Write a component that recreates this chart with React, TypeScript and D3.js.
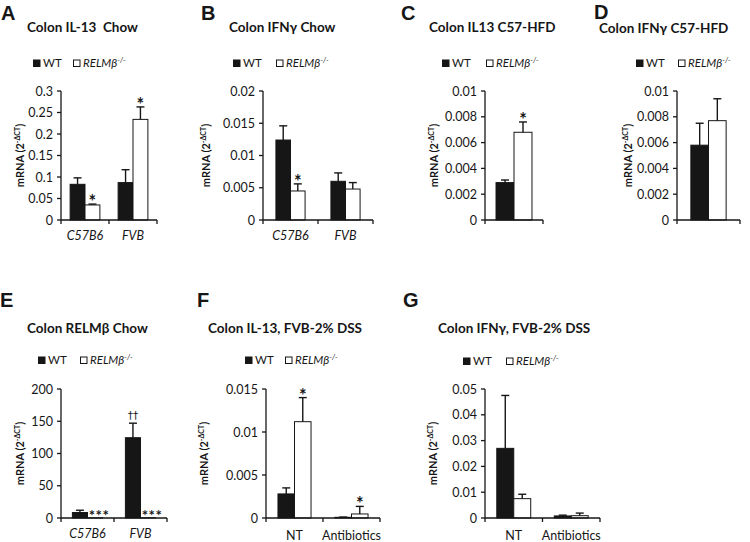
import React from "react";
import * as d3 from "d3";

// ---------- data ----------
const seriesNames = ["WT", "RELMβ"];

const catsA = ["C57B6", "FVB"];
const wtA = [0.083, 0.087];
const wtSemA = [0.015, 0.03];
const koA = [0.035, 0.234];
const koSemA = [0.002, 0.029];
const ticksA = [0, 0.05, 0.1, 0.15, 0.2, 0.25, 0.3];
const annWtA = ["", ""];
const annKoA = ["*", "*"];

const catsB = ["C57B6", "FVB"];
const wtB = [0.0124, 0.006];
const wtSemB = [0.0022, 0.0013];
const koB = [0.0045, 0.0048];
const koSemB = [0.0011, 0.001];
const ticksB = [0, 0.005, 0.01, 0.015, 0.02];
const annWtB = ["", ""];
const annKoB = ["*", ""];

const catsC = [""];
const wtC = [0.0029];
const wtSemC = [0.0002];
const koC = [0.0068];
const koSemC = [0.0008];
const ticksC = [0, 0.002, 0.004, 0.006, 0.008, 0.01];
const annWtC = [""];
const annKoC = ["*"];

const catsD = [""];
const wtD = [0.0058];
const wtSemD = [0.0017];
const koD = [0.0077];
const koSemD = [0.0017];
const ticksD = [0, 0.002, 0.004, 0.006, 0.008, 0.01];
const annWtD = [""];
const annKoD = [""];

const catsE = ["C57B6", "FVB"];
const wtE = [8.5, 124.5];
const wtSemE = [3.5, 22.5];
const koE = [0.3, 0.4];
const koSemE = [0, 0];
const ticksE = [0, 50, 100, 150, 200];
const annWtE = ["", "††"];
const annKoE = ["***", "***"];

const catsF = ["NT", "Antibiotics"];
const wtF = [0.0028, 0.00008];
const wtSemF = [0.0007, 0.00003];
const koF = [0.0112, 0.00047];
const koSemF = [0.0028, 0.00088];
const ticksF = [0, 0.005, 0.01, 0.015];
const annWtF = ["", ""];
const annKoF = ["*", "*"];

const catsG = ["NT", "Antibiotics"];
const wtG = [0.027, 0.0008];
const wtSemG = [0.0205, 0.0003];
const koG = [0.0075, 0.0009];
const koSemG = [0.0017, 0.001];
const ticksG = [0, 0.01, 0.02, 0.03, 0.04, 0.05];
const annWtG = ["", ""];
const annKoG = ["", ""];

// ---------- layout ----------
const FONT = "Lato, 'Open Sans', sans-serif";
const INK = "#161616";

type Panel = {
  letter: string;
  title: string;
  cats: string[];
  italicCats: boolean;
  wt: number[];
  wtSem: number[];
  ko: number[];
  koSem: number[];
  ticks: number[];
  annWt: string[];
  annKo: string[];
  axisX: [number, number];
  axisY: [number, number];
  letterPos: [number, number];
  titlePos: [number, number];
  legend: [number, number, number];
  ylabelX: number;
  catY: number;
  barFrac: number;
};

const panels: Panel[] = [
  { letter: "A", title: "Colon IL-13  Chow", cats: catsA, italicCats: true, wt: wtA, wtSem: wtSemA, ko: koA, koSem: koSemA, ticks: ticksA, annWt: annWtA, annKo: annKoA,
    axisX: [61, 157], axisY: [91, 220], letterPos: [1, 20], titlePos: [27, 32], legend: [33, 73, 63], ylabelX: 24, catY: 240, barFrac: 0.62 },
  { letter: "B", title: "Colon IFNγ Chow", cats: catsB, italicCats: true, wt: wtB, wtSem: wtSemB, ko: koB, koSem: koSemB, ticks: ticksB, annWt: annWtB, annKo: annKoB,
    axisX: [263, 373], axisY: [91, 220], letterPos: [201, 20], titlePos: [229, 32], legend: [233, 276, 63], ylabelX: 210, catY: 240, barFrac: 0.53 },
  { letter: "C", title: "Colon IL13 C57-HFD", cats: catsC, italicCats: true, wt: wtC, wtSem: wtSemC, ko: koC, koSem: koSemC, ticks: ticksC, annWt: annWtC, annKo: annKoC,
    axisX: [485, 543], axisY: [91, 220], letterPos: [401, 20], titlePos: [429, 32], legend: [442, 486, 63], ylabelX: 438, catY: 240, barFrac: 0.62 },
  { letter: "D", title: "Colon IFNγ C57-HFD", cats: catsD, italicCats: true, wt: wtD, wtSem: wtSemD, ko: koD, koSem: koSemD, ticks: ticksD, annWt: annWtD, annKo: annKoD,
    axisX: [677, 740], axisY: [91, 220], letterPos: [594, 19], titlePos: [599, 33], legend: [636, 678, 63], ylabelX: 632, catY: 240, barFrac: 0.56 },
  { letter: "E", title: "Colon RELMβ Chow", cats: catsE, italicCats: true, wt: wtE, wtSem: wtSemE, ko: koE, koSem: koSemE, ticks: ticksE, annWt: annWtE, annKo: annKoE,
    axisX: [61, 167], axisY: [389, 518], letterPos: [0, 307], titlePos: [27, 333], legend: [38, 80, 360], ylabelX: 24, catY: 538, barFrac: 0.57 },
  { letter: "F", title: "Colon IL-13, FVB-2% DSS", cats: catsF, italicCats: false, wt: wtF, wtSem: wtSemF, ko: koF, koSem: koSemF, ticks: ticksF, annWt: annWtF, annKo: annKoF,
    axisX: [266, 380], axisY: [389, 518], letterPos: [197, 307], titlePos: [208, 333], legend: [245, 285, 360], ylabelX: 208, catY: 540, barFrac: 0.58 },
  { letter: "G", title: "Colon IFNγ, FVB-2% DSS", cats: catsG, italicCats: false, wt: wtG, wtSem: wtSemG, ko: koG, koSem: koSemG, ticks: ticksG, annWt: annWtG, annKo: annKoG,
    axisX: [485, 600], axisY: [389, 518], letterPos: [403, 307], titlePos: [438, 333], legend: [463, 506, 361], ylabelX: 437, catY: 540, barFrac: 0.59 },
];

const fmt = d3.format("~g");

function Annotation({ x, y, text }: { x: number; y: number; text: string }) {
  if (!text) return null;
  const isDagger = text.includes("†");
  const isTriple = text.length > 1 && text.includes("*");
  if (isDagger) {
    return (
      <text x={x} y={y - 4} textAnchor="middle" fontSize={10.5} fontFamily="'DejaVu Sans', sans-serif" fill={INK}>{text}</text>
    );
  }
  if (isTriple) {
    return (
      <text x={x + 4} y={y + 3} textAnchor="middle" fontSize={15} fontWeight={700} fontFamily={FONT} fill={INK} letterSpacing={0.5}>
        {text}
      </text>
    );
  }
  return (
    <text x={x} y={y + 4} textAnchor="middle" fontSize={18} fontWeight={700} fontFamily={FONT} fill={INK}>
      {text}
    </text>
  );
}

function PanelChart({ p }: { p: Panel }) {
  const y = d3.scaleLinear().domain([0, p.ticks[p.ticks.length - 1]]).range([p.axisY[1], p.axisY[0]]);
  const x = d3.scaleBand<string>().domain(p.cats.map((_, i) => String(i))).range(p.axisX).padding(0);
  const bw = (x.bandwidth() * p.barFrac) / 2;
  const barX = (i: number, s: number) => (x(String(i)) as number) + x.bandwidth() / 2 - bw + s * bw;

  const series = [
    { key: "wt", vals: p.wt, sem: p.wtSem, ann: p.annWt, fill: INK },
    { key: "ko", vals: p.ko, sem: p.koSem, ann: p.annKo, fill: "#fff" },
  ];

  const boundaries = [p.axisX[0], ...p.cats.map((_, i) => (x(String(i)) as number) + x.bandwidth())];
  const [lx1, lx2, ly] = p.legend;

  return (
    <g>
      <text x={p.letterPos[0]} y={p.letterPos[1]} fontSize={20} fontWeight={700} fontFamily="'Liberation Sans', Arial, sans-serif" fill={INK}>{p.letter}</text>
      <text x={p.titlePos[0]} y={p.titlePos[1]} fontSize={13.5} fontWeight={700} fontFamily={FONT} fill={INK} style={{ whiteSpace: "pre" }}>{p.title}</text>

      {/* legend */}
      <rect x={lx1} y={ly - 3.5} width={7.5} height={7.5} fill={INK} />
      <text x={lx1 + 10} y={ly + 4} fontSize={11.5} fontFamily={FONT} fill={INK}>{seriesNames[0]}</text>
      <rect x={lx2 + 0.5} y={ly - 3} width={6.5} height={6.5} fill="#fff" stroke={INK} strokeWidth={1} />
      <text x={lx2 + 10} y={ly + 4} fontSize={11.5} fontFamily={FONT} fontStyle="italic" fill={INK}>
        {seriesNames[1]}
        <tspan fontSize={7.5} dy={-4.5}>-/-</tspan>
      </text>

      {/* y label */}
      <text transform={`translate(${p.ylabelX},${(p.axisY[0] + p.axisY[1]) / 2}) rotate(-90)`} textAnchor="middle"
        fontSize={11} fontWeight={700} fontFamily={FONT} fill={INK}>
        mRNA (2<tspan fontSize={7} dy={-4}>-ΔCT</tspan><tspan dy={4}>)</tspan>
      </text>

      {/* bars */}
      {series.map((s, si) =>
        s.vals.map((v, i) => {
          const bx = barX(i, si);
          const top = y(v);
          const errTop = y(v + s.sem[i]);
          const cx = bx + bw / 2;
          return (
            <g key={`${s.key}-${i}`}>
              <rect x={bx} y={top} width={bw} height={y(0) - top} fill={s.fill} stroke={INK} strokeWidth={1} />
              {s.sem[i] > 0 && (
                <g stroke={INK} strokeWidth={1.4}>
                  <line x1={cx} x2={cx} y1={top} y2={errTop} />
                  <line x1={cx - 4} x2={cx + 4} y1={errTop} y2={errTop} />
                </g>
              )}
              <Annotation x={cx} y={errTop} text={s.ann[i]} />
            </g>
          );
        })
      )}

      {/* y axis */}
      <line x1={p.axisX[0]} x2={p.axisX[0]} y1={p.axisY[0]} y2={p.axisY[1]} stroke={INK} strokeWidth={1.3} />
      {p.ticks.map((t) => (
        <g key={t}>
          <line x1={p.axisX[0] - 4} x2={p.axisX[0]} y1={y(t)} y2={y(t)} stroke={INK} strokeWidth={1.3} />
          <text x={p.axisX[0] - 8} y={y(t) + 4.5} textAnchor="end" fontSize={12.5} fontFamily={FONT} fill={INK}>{fmt(t)}</text>
        </g>
      ))}

      {/* x axis */}
      <line x1={p.axisX[0]} x2={p.axisX[1]} y1={p.axisY[1]} y2={p.axisY[1]} stroke={INK} strokeWidth={1.3} />
      {boundaries.map((bxx, i) => (
        <line key={i} x1={bxx} x2={bxx} y1={p.axisY[1]} y2={p.axisY[1] + 4} stroke={INK} strokeWidth={1.3} />
      ))}
      {p.cats.map((c, i) => (
        <text key={i} x={(x(String(i)) as number) + x.bandwidth() / 2} y={p.catY} textAnchor="middle" fontSize={12.5}
          fontStyle={p.italicCats ? "italic" : "normal"} fontFamily={FONT} fill={INK}>{c}</text>
      ))}
    </g>
  );
}

export default function App() {
  return (
    <svg width={750} height={542} viewBox="0 0 750 542" style={{ position: "absolute", left: 0, top: 0, background: "#fff" }}>
      <rect width={750} height={542} fill="#fff" />
      {panels.map((p) => (
        <PanelChart key={p.letter} p={p} />
      ))}
    </svg>
  );
}
